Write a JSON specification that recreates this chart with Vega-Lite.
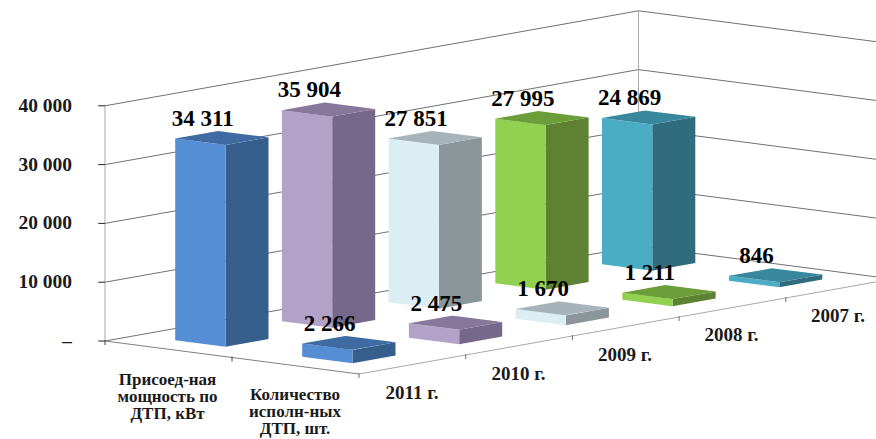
{
"$schema":"https://vega.github.io/schema/vega-lite/v6.json",
"width":876,"height":439,"padding":0,"autosize":{"type":"none"},"background":"white",
"config":{"view":{"stroke":null}},
"datasets":{
"bars":[
{"year":"2011 г.","measure":"Присоед-ная мощность по ДТП, кВт","i":0,"j":0,"value":34311},
{"year":"2010 г.","measure":"Присоед-ная мощность по ДТП, кВт","i":1,"j":0,"value":35904},
{"year":"2009 г.","measure":"Присоед-ная мощность по ДТП, кВт","i":2,"j":0,"value":27851},
{"year":"2008 г.","measure":"Присоед-ная мощность по ДТП, кВт","i":3,"j":0,"value":27995},
{"year":"2007 г.","measure":"Присоед-ная мощность по ДТП, кВт","i":4,"j":0,"value":24869},
{"year":"2011 г.","measure":"Количество исполн-ных ДТП, шт.","i":0,"j":1,"value":2266},
{"year":"2010 г.","measure":"Количество исполн-ных ДТП, шт.","i":1,"j":1,"value":2475},
{"year":"2009 г.","measure":"Количество исполн-ных ДТП, шт.","i":2,"j":1,"value":1670},
{"year":"2008 г.","measure":"Количество исполн-ных ДТП, шт.","i":3,"j":1,"value":1211},
{"year":"2007 г.","measure":"Количество исполн-ных ДТП, шт.","i":4,"j":1,"value":846}
],
"ticks":[{"value":0},{"value":10000},{"value":20000},{"value":30000},{"value":40000}],
"years":[{"year":"2011 г.","i":0},{"year":"2010 г.","i":1},{"year":"2009 г.","i":2},{"year":"2008 г.","i":3},{"year":"2007 г.","i":4}],
"cats":[{"label":"Присоед-ная\nмощность по\nДТП, кВт","j":0},{"label":"Количество\nисполн-ных\nДТП, шт.","j":1}],
"frame":[
{"j1":0,"i1":0,"v1":0,"j2":0,"i2":0,"v2":40000,"kind":"light"},
{"j1":0,"i1":5,"v1":0,"j2":0,"i2":5,"v2":40000,"kind":"light"},
{"j1":0,"i1":0,"v1":0,"j2":2,"i2":0,"v2":0,"kind":"dark"},
{"j1":2,"i1":0,"v1":0,"j2":2,"i2":5,"v2":0,"kind":"light"}
]
},
"encoding":{
"x":{"field":"px","type":"quantitative","scale":{"domain":[0,876],"nice":false},"axis":null},
"y":{"field":"py","type":"quantitative","scale":{"domain":[439,0],"nice":false},"axis":null}
},
"layer":[
{"data":{"name":"ticks"},"mark":{"type":"rule","color":"#707070","strokeWidth":1},
"transform":[{"calculate":"105","as":"px"},{"calculate":"341-0.00588*datum.value","as":"py"},{"calculate":"638.5","as":"px2"},{"calculate":"datum.py-95","as":"py2"}],
"encoding":{"x2":{"field":"px2"},"y2":{"field":"py2"}}},
{"data":{"name":"ticks"},"mark":{"type":"rule","color":"#707070","strokeWidth":1,"clip":true},
"transform":[{"calculate":"638.5","as":"px"},{"calculate":"246-0.00588*datum.value","as":"py"},{"calculate":"892.5","as":"px2"},{"calculate":"datum.py+33","as":"py2"}],
"encoding":{"x2":{"field":"px2"},"y2":{"field":"py2"}}},
{"data":{"name":"frame"},"mark":{"type":"rule","strokeWidth":1,"clip":true},
"transform":[{"calculate":"105+127*datum.j1+106.7*datum.i1","as":"px"},{"calculate":"341+16.5*datum.j1-19*datum.i1-0.00588*datum.v1","as":"py"},{"calculate":"105+127*datum.j2+106.7*datum.i2","as":"px2"},{"calculate":"341+16.5*datum.j2-19*datum.i2-0.00588*datum.v2","as":"py2"}],
"encoding":{"x2":{"field":"px2"},"y2":{"field":"py2"},"stroke":{"field":"kind","type":"nominal","scale":{"domain":["light","dark"],"range":["#a8a8a8","#808080"]},"legend":null}}},
{"data":{"name":"ticks"},"mark":{"type":"rule","color":"#222222","strokeWidth":1},
"transform":[{"calculate":"98.3","as":"px"},{"calculate":"341-0.00588*datum.value","as":"py"},{"calculate":"105","as":"px2"}],
"encoding":{"x2":{"field":"px2"}}},
{"data":{"name":"years"},"mark":{"type":"rule","color":"#707070","strokeWidth":1},
"transform":[{"calculate":"359+106.7*datum.i","as":"px"},{"calculate":"374-19*datum.i-1","as":"py"},{"calculate":"datum.py+5","as":"py2"}],
"encoding":{"y2":{"field":"py2"}}},
{"data":{"name":"cats"},"mark":{"type":"rule","color":"#404040","strokeWidth":1},
"transform":[{"calculate":"105+127*datum.j","as":"px"},{"calculate":"341+16.5*datum.j-1","as":"py"},{"calculate":"datum.py+5","as":"py2"}],
"encoding":{"y2":{"field":"py2"}}},
{"data":{"name":"bars"},"mark":{"type":"area","orient":"vertical"},
"transform":[
{"calculate":"175.2+127*datum.j+106.7*datum.i","as":"X0"},{"calculate":"340.3+16.5*datum.j-19*datum.i","as":"Y0"},{"calculate":"0.00588*datum.value","as":"h"},
{"calculate":"[0,43]","as":"t"},{"flatten":["t"]},
{"calculate":"datum.X0+50.3+datum.t","as":"px"},{"calculate":"datum.Y0+6.4-0.1767*datum.t-datum.h","as":"py"},{"calculate":"datum.Y0+6.4-0.1767*datum.t","as":"py2"},
{"calculate":"datum.year+' side'","as":"face"}],
"encoding":{"y2":{"field":"py2"},"detail":{"field":"j"},"color":{"field":"face","type":"nominal","legend":null,"scale":{
"domain":["2011 г. front","2010 г. front","2009 г. front","2008 г. front","2007 г. front","2011 г. side","2010 г. side","2009 г. side","2008 г. side","2007 г. side","2011 г. top","2010 г. top","2009 г. top","2008 г. top","2007 г. top"],
"range":["#558ED5","#B3A2C7","#DBEEF4","#92D050","#4BACC6","#375F8E","#75688A","#8A9699","#5E8232","#316B7E","#3F6BA3","#87779B","#A6B4B9","#6B9E38","#38879C"]}}}},
{"data":{"name":"bars"},"mark":{"type":"area","orient":"vertical"},
"transform":[
{"calculate":"175.2+127*datum.j+106.7*datum.i","as":"X0"},{"calculate":"340.3+16.5*datum.j-19*datum.i","as":"Y0"},{"calculate":"0.00588*datum.value","as":"h"},
{"calculate":"[0,50.3]","as":"t"},{"flatten":["t"]},
{"calculate":"datum.X0+datum.t","as":"px"},{"calculate":"datum.Y0+0.127*datum.t-datum.h","as":"py"},{"calculate":"datum.Y0+0.127*datum.t","as":"py2"},
{"calculate":"datum.year+' front'","as":"face"}],
"encoding":{"y2":{"field":"py2"},"detail":{"field":"j"},"color":{"field":"face","type":"nominal","legend":null}}},
{"data":{"name":"bars"},"mark":{"type":"area","orient":"vertical"},
"transform":[
{"calculate":"175.2+127*datum.j+106.7*datum.i","as":"X0"},{"calculate":"340.3+16.5*datum.j-19*datum.i","as":"Y0"},{"calculate":"0.00588*datum.value","as":"h"},
{"calculate":"[0,43,50.3,93.3]","as":"t"},{"flatten":["t"]},
{"calculate":"datum.X0+datum.t","as":"px"},
{"calculate":"datum.Y0-datum.h+(datum.t<=43?-0.1767*datum.t:-7.6+0.127*(datum.t-43))","as":"py"},
{"calculate":"datum.Y0-datum.h+(datum.t<=50.3?0.127*datum.t:6.4-0.1767*(datum.t-50.3))","as":"py2"},
{"calculate":"datum.year+' top'","as":"face"}],
"encoding":{"y2":{"field":"py2"},"detail":{"field":"j"},"color":{"field":"face","type":"nominal","legend":null}}},
{"data":{"name":"bars"},"mark":{"type":"text","font":"Liberation Serif","fontWeight":"bold","fontSize":23,"color":"black","align":"center","baseline":"alphabetic"},
"transform":[
{"calculate":"202.7+127*datum.j+106.7*datum.i","as":"px"},
{"calculate":"340.3+16.5*datum.j-19*datum.i-0.00588*datum.value-12.7","as":"py"},
{"calculate":"replace(format(datum.value,','),',',' ')","as":"lab"}],
"encoding":{"text":{"field":"lab"}}},
{"data":{"name":"ticks"},"mark":{"type":"text","font":"Liberation Serif","fontWeight":"bold","fontSize":19.5,"color":"#1a1a1a","align":"right","baseline":"alphabetic"},
"transform":[
{"calculate":"72","as":"px"},{"calculate":"347-0.00588*datum.value","as":"py"},
{"calculate":"datum.value==0?'–':replace(format(datum.value,','),',',' ')","as":"lab"}],
"encoding":{"text":{"field":"lab"}}},
{"data":{"name":"years"},"mark":{"type":"text","font":"Liberation Serif","fontWeight":"bold","fontSize":19,"color":"#1a1a1a","align":"center","baseline":"alphabetic"},
"transform":[{"calculate":"412+106.5*datum.i","as":"px"},{"calculate":"399.3-19.4*datum.i","as":"py"}],
"encoding":{"text":{"field":"year"}}},
{"data":{"name":"cats"},"mark":{"type":"text","font":"Liberation Serif","fontWeight":"bold","fontSize":17,"lineHeight":17.2,"lineBreak":"\n","color":"#1a1a1a","align":"center","baseline":"alphabetic"},
"transform":[{"calculate":"167.5+127.5*datum.j","as":"px"},{"calculate":"385+15*datum.j","as":"py"}],
"encoding":{"text":{"field":"label"}}}
]
}
